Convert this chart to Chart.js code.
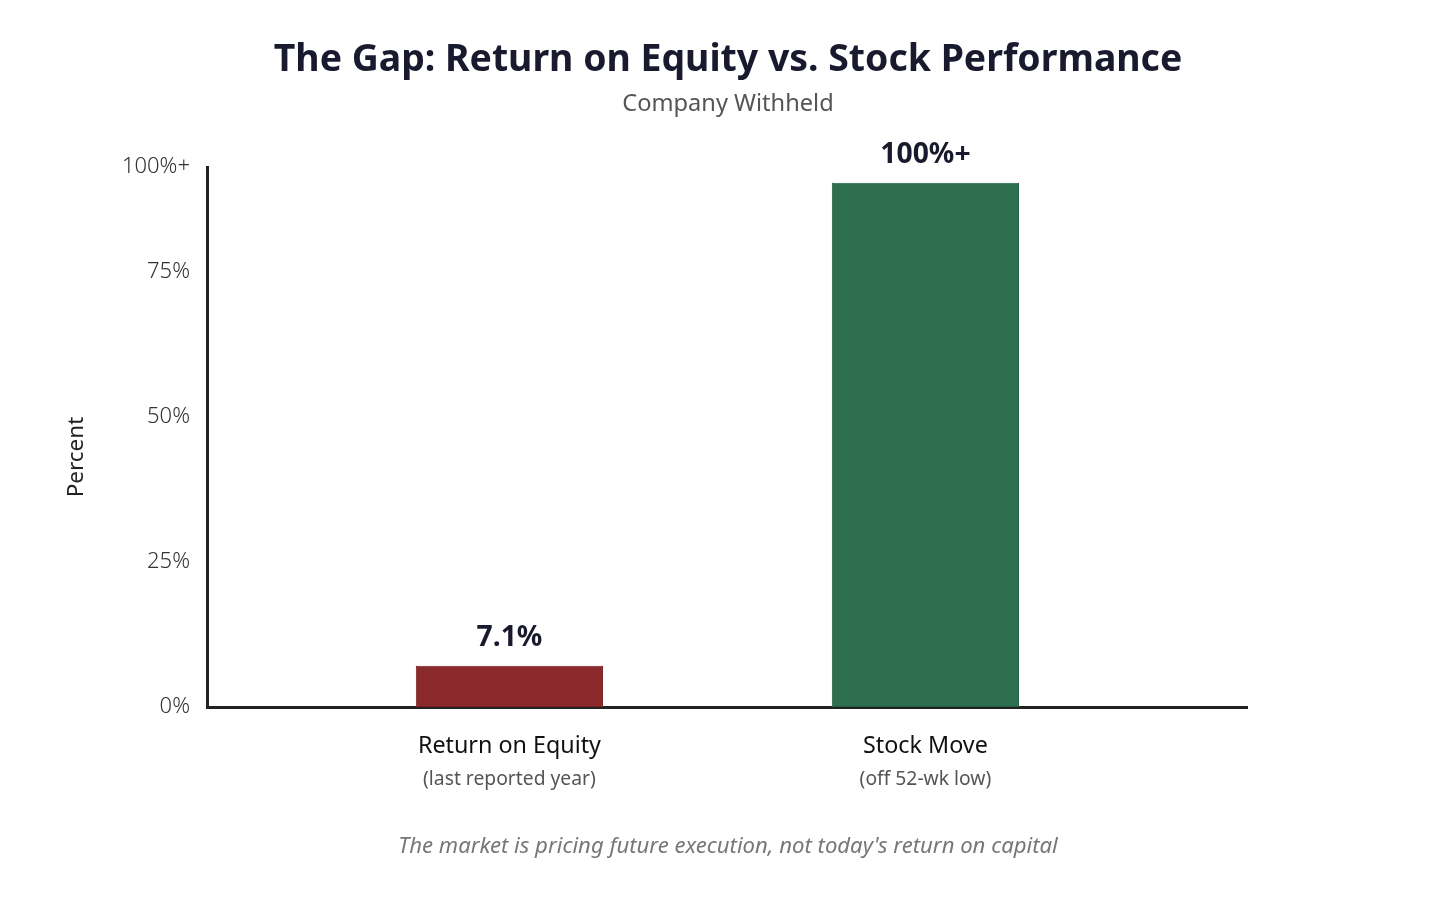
<!DOCTYPE html>
<html>
<head>
<meta charset="utf-8">
<script src="https://cdn.jsdelivr.net/npm/chart.js@4.4.1/dist/chart.umd.min.js"></script>
<style>
  html, body { margin: 0; padding: 0; background: #ffffff; }
  #wrap { width: 1456px; height: 915px; position: relative; }
</style>
</head>
<body>
<div id="wrap"><canvas id="c"></canvas></div>
<script>
// ---- data ----
const categories = ["Return on Equity", "Stock Move"];
const categorySubLabels = ["(last reported year)", "(off 52-wk low)"];
const plottedValues = [7.1, 90.3];          // bar heights as drawn (stock move capped)
const valueLabels = ["7.1%", "100%+"];
const barColors = ["#8B2A2D", "#2D6E4F"];
const barEdgeColors = ["#7A1F22", "#215C3F"];
const yTickValues = [0, 25, 50, 75, 93];
const yTickLabels = ["0%", "25%", "50%", "75%", "100%+"];
const titleText = "The Gap: Return on Equity vs. Stock Performance";
const subtitleText = "Company Withheld";
const footerText = "The market is pricing future execution, not today's return on capital";
const yAxisTitle = "Percent";

const FONT = "'Noto Sans', 'Open Sans', sans-serif";

const textPlugin = {
  id: 'texts',
  afterDraw(chart) {
    const ctx = chart.ctx;
    const W = chart.width;
    ctx.save();
    ctx.textAlign = 'center';
    ctx.textBaseline = 'alphabetic';
    // title
    ctx.fillStyle = '#1a1a2e';
    ctx.font = "bold 37.4px " + FONT;
    ctx.fillText(titleText, 728, 71);
    // subtitle
    ctx.fillStyle = '#555555';
    ctx.font = "23.6px " + FONT;
    ctx.fillText(subtitleText, 728, 111);
    // footer
    ctx.fillStyle = '#777777';
    ctx.font = "italic 22.1px " + FONT;
    ctx.fillText(footerText, 728, 853);
    // y axis title
    ctx.save();
    ctx.translate(83, 457);
    ctx.rotate(-Math.PI / 2);
    ctx.fillStyle = '#222222';
    ctx.font = "22.5px " + FONT;
    ctx.fillText(yAxisTitle, 0, 0);
    ctx.restore();
    // category labels
    const xs = chart.scales.x;
    categories.forEach((c, i) => {
      const px = xs.getPixelForValue(i);
      ctx.fillStyle = '#111111';
      ctx.font = "23.3px " + FONT;
      ctx.fillText(c, px, 753);
      ctx.fillStyle = '#555555';
      ctx.font = "19.3px " + FONT;
      ctx.fillText(categorySubLabels[i], px, 785);
    });
    ctx.restore();
  },
  afterDatasetsDraw(chart) {
    const ctx = chart.ctx;
    const meta = chart.getDatasetMeta(0);
    ctx.save();
    ctx.textAlign = 'center';
    ctx.textBaseline = 'alphabetic';
    ctx.fillStyle = '#1a1a2e';
    ctx.font = "bold 28.3px " + FONT;
    meta.data.forEach((bar, i) => {
      ctx.fillText(valueLabels[i], bar.x, bar.y - 20);
    });
    ctx.restore();
  }
};

new Chart(document.getElementById('c'), {
  type: 'bar',
  data: {
    datasets: [{
      data: categories.map((c, i) => ({ x: i, y: plottedValues[i] })),
      backgroundColor: barColors,
      borderColor: barEdgeColors,
      borderWidth: 1,
      borderSkipped: false,
      barPercentage: 0.45,
      categoryPercentage: 1.0
    }]
  },
  options: {
    responsive: true,
    maintainAspectRatio: false,
    animation: false,
    devicePixelRatio: 1,
    layout: { padding: { left: 0, right: 209, top: 167, bottom: 208 } },
    plugins: {
      legend: { display: false },
      tooltip: { enabled: false },
      title: { display: false }
    },
    scales: {
      x: {
        type: 'linear',
        min: -0.727,
        max: 1.773,
        offset: false,
        z: 1,
        grid: { display: false, drawTicks: false },
        border: { display: true, color: '#222222', width: 3 },
        afterBuildTicks(scale) {
          scale.ticks = categories.map((c, i) => ({ value: i }));
        },
        ticks: { display: false },
        afterFit(scale) { scale.height = 0; }
      },
      y: {
        min: 0,
        max: 93,
        z: 1,
        grid: { display: false, drawTicks: false },
        border: { display: true, color: '#222222', width: 3 },
        afterBuildTicks(scale) {
          scale.ticks = yTickValues.map(v => ({ value: v }));
        },
        afterFit(scale) { scale.width = 207; },
        ticks: {
          padding: 17,
          color: '#333333',
          font: { family: FONT, size: 22, weight: '300' },
          callback: (value, index) => yTickLabels[index]
        }
      }
    }
  },
  plugins: [textPlugin]
});
</script>
</body>
</html>
